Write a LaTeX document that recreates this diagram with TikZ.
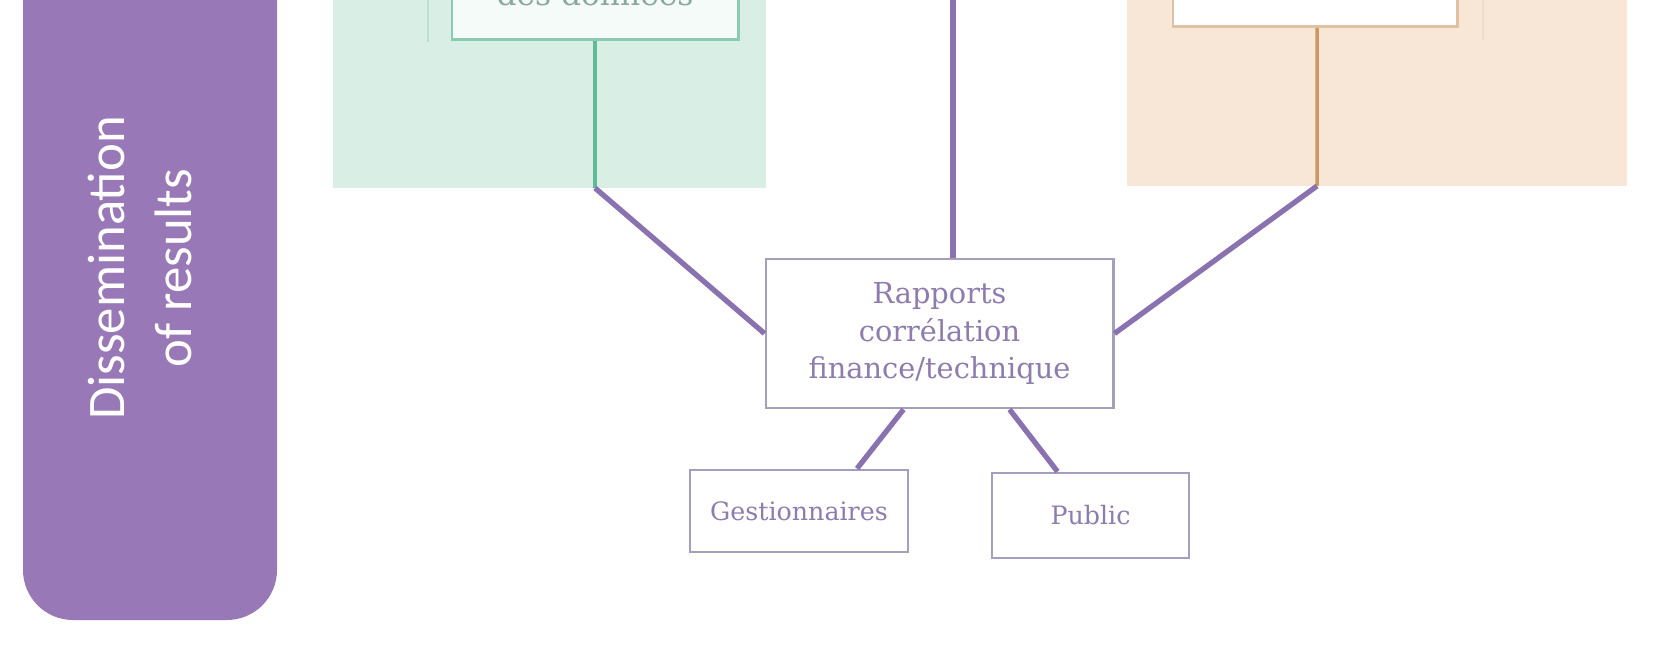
\documentclass[tikz,border=0pt]{standalone}
\usepackage{fontspec}
\setmainfont{DejaVu Serif}
\newfontfamily\sidefont{Carlito}

\definecolor{sidepurple}{HTML}{9878B6}
\definecolor{linkpurple}{HTML}{8A72B0}
\definecolor{boxgray}{HTML}{A69EBD}
\definecolor{boxtext}{HTML}{8D7DAE}
\definecolor{mintbg}{HTML}{D9EEE5}
\definecolor{mintline}{HTML}{62BB97}
\definecolor{minttext}{HTML}{8AA89C}
\definecolor{peachbg}{HTML}{F8E7D7}
\definecolor{peachline}{HTML}{C99A62}

\begin{document}
\begin{tikzpicture}[x=0.01cm, y=-0.01cm,
    link/.style={linkpurple, line width=1.5pt},
    outbox/.style={draw=boxgray, line width=0.8pt, fill=white, text=boxtext, inner sep=0pt, align=center}]
\useasboundingbox (0,0) rectangle (1667,646);
\fill[white] (0,0) rectangle (1667,646);
\clip (0,0) rectangle (1667,646);

% side band
\fill[sidepurple, rounded corners=0.5cm] (23,-80) rectangle (277,620);
\node[rotate=90, text=white, font=\sidefont\fontsize{15}{18.8}\selectfont, align=center] (side) at (140,268) {Dissemination\\of results};

% panels above
\fill[mintbg] (333,-10) rectangle (766,188);
\fill[peachbg] (1127,-10) rectangle (1627,186);
\draw[mintline!45, line width=0.7pt] (428,-10) -- (428,42);
\draw[peachline!35, line width=0.7pt] (1483,-10) -- (1483,40);
\node[draw=mintline!75, line width=0.8pt, fill=mintbg!25, text=minttext, anchor=south, minimum width=2.86cm, inner xsep=0pt, inner ysep=0pt, text depth=0.34cm, font=\fontsize{8.9}{11}\selectfont] (donnees) at (595,41) {des données};
\node[draw=peachline!60, line width=0.8pt, fill=white, anchor=south, minimum width=2.84cm, minimum height=0.8cm] (peachbox) at (1315,28) {};

% boxes
\node[outbox, minimum width=3.47cm, minimum height=1.49cm, font=\fontsize{8.2}{10.8}\selectfont] (Rapports) at (939.5,333.5) {Rapports\\corrélation\\finance/technique};
\node[outbox, minimum width=2.18cm, minimum height=0.82cm, font=\fontsize{7.2}{9}\selectfont] (Gest) at (799,511) {Gestionnaires};
\node[outbox, minimum width=1.97cm, minimum height=0.85cm, font=\fontsize{7.2}{9}\selectfont] (Public) at (1090.5,515.5) {Public};

% connectors
\coordinate (mintend) at (595,188);
\coordinate (peachend) at (1317,186);
\coordinate (topend) at (953,-10);
\draw[mintline, line width=1.2pt] (donnees.south) -- (mintend);
\draw[peachline, line width=1pt] ([xshift=0.02cm]peachbox.south) -- (peachend);
\draw[link] (mintend) -- (Rapports.west);
\draw[link] (peachend) -- (Rapports.east);
\draw[link] (topend) -- (topend |- Rapports.north);
\draw[link] ([xshift=-0.36cm]Rapports.south) -- ([xshift=0.58cm]Gest.north);
\draw[link] ([xshift=0.70cm]Rapports.south) -- ([xshift=-0.33cm]Public.north);

\end{tikzpicture}
\end{document}
